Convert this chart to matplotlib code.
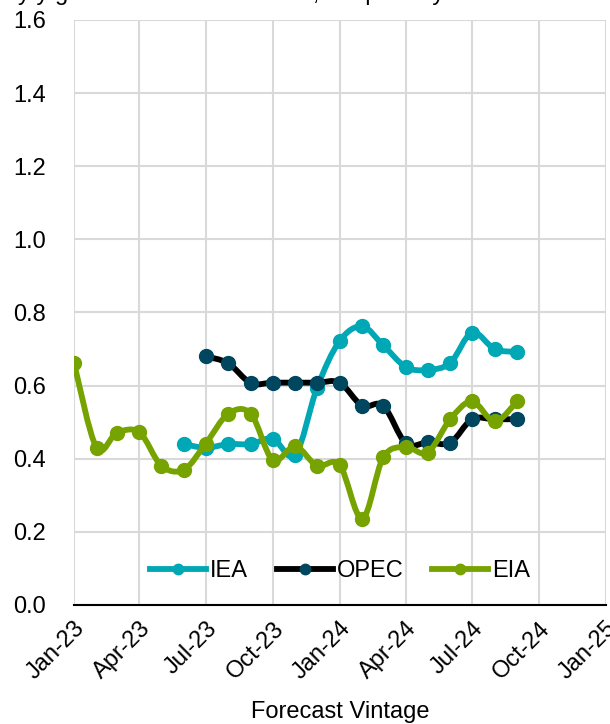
import numpy as np
import pandas as pd
import matplotlib
matplotlib.use("Agg")
import matplotlib.pyplot as plt
import matplotlib.dates as mdates
from matplotlib.path import Path
from matplotlib.patches import PathPatch
from matplotlib.lines import Line2D

plt.rcParams['font.family'] = ['Liberation Sans', 'DejaVu Sans']

# monthly forecast vintages
iea_dates = pd.date_range("2023-06-01", "2024-09-01", freq="MS")
iea_vals = [0.44, 0.43, 0.44, 0.44, 0.455, 0.41, 0.594, 0.722, 0.762,
            0.71, 0.651, 0.643, 0.662, 0.745, 0.70, 0.692]

opec_dates = pd.date_range("2023-07-01", "2024-09-01", freq="MS")
opec_vals = [0.68, 0.661, 0.607, 0.608, 0.608, 0.608, 0.608, 0.545, 0.545,
             0.442, 0.445, 0.444, 0.508, 0.508, 0.508]

eia_dates = pd.date_range("2023-01-01", "2024-09-01", freq="MS")
eia_vals = [0.662, 0.43, 0.471, 0.472, 0.381, 0.37, 0.441, 0.523, 0.523,
            0.397, 0.434, 0.381, 0.383, 0.236, 0.404, 0.432, 0.417, 0.508,
            0.557, 0.502, 0.557]

ticks = pd.date_range("2023-01-01", "2025-01-01", freq="3MS")

FS = 17


def smooth_path(dates, vals):
    # excel style smoothed line: cubic bezier through every point
    x = mdates.date2num(dates)
    y = np.asarray(vals, dtype=float)
    p = np.column_stack([x, y])
    n = len(p)
    verts = [p[0]]
    codes = [Path.MOVETO]
    for i in range(n - 1):
        p0 = p[i - 1] if i > 0 else p[i]
        p3 = p[i + 2] if i + 2 < n else p[i + 1]
        c1 = p[i] + (p[i + 1] - p0) / 6
        c2 = p[i + 1] - (p3 - p[i]) / 6
        verts += [c1, c2, p[i + 1]]
        codes += [Path.CURVE4] * 3
    return Path(verts, codes)


fig = plt.figure(figsize=(6.1, 7.24), dpi=100)
ax = fig.add_axes([0.1213, 0.1644, 0.8721, 0.808])

lw = 4.2
ms = 10
series = [
    (iea_dates, iea_vals, "#00A7B5", "#00A7B5", "IEA"),
    (opec_dates, opec_vals, "black", "#00465E", "OPEC"),
    (eia_dates, eia_vals, "#77A300", "#77A300", "EIA"),
]
handles = []
for k, (d, v, lc, mc, name) in enumerate(series):
    z = 3 + k
    ax.add_patch(PathPatch(smooth_path(d, v), fill=False, edgecolor=lc,
                           lw=lw, capstyle="round", joinstyle="round", zorder=z))
    ax.plot(d, v, ls="none", marker="o", ms=ms, mfc=mc, mec=mc, zorder=z)
    handles.append(Line2D([], [], color=lc, lw=lw, marker="o", ms=ms,
                          mfc=mc, mec=mc, label=name))

ax.set_xlim(ticks[0], ticks[-1])
ax.set_ylim(0, 1.6)
ax.set_yticks(np.arange(0, 1.61, 0.2))
ax.yaxis.set_major_formatter(matplotlib.ticker.FormatStrFormatter("%.1f"))
ax.set_xticks(ticks)
ax.xaxis.set_major_formatter(mdates.DateFormatter("%b-%y"))
plt.setp(ax.get_xticklabels(), rotation=45, ha="right", rotation_mode="anchor")
ax.tick_params(axis="both", labelsize=FS, length=0, colors="black")
ax.tick_params(axis="x", pad=9)
ax.tick_params(axis="y", pad=20)

ax.grid(True, color="#D9D9D9", lw=1.5)
ax.set_axisbelow(True)
for s in ["top", "right", "left"]:
    ax.spines[s].set_visible(False)
ax.spines["bottom"].set_color("black")
ax.spines["bottom"].set_linewidth(1.5)
ax.spines["bottom"].set_zorder(6)

ax.set_xlabel("Forecast Vintage", fontsize=FS, labelpad=12)

leg = ax.legend(handles=handles, loc="center", bbox_to_anchor=(0.5, 0.058),
                ncol=3, frameon=False, fontsize=FS, handlelength=2.37,
                columnspacing=1.2, handletextpad=0.17, markerscale=0.75)

# title text clipped at top edge of the picture
fig.text(0.03, 1.0, "y/y growth in 2025 forecasts, mb per day",
         fontsize=FS, va="baseline", ha="left")

fig.savefig("out.png", dpi=100)
